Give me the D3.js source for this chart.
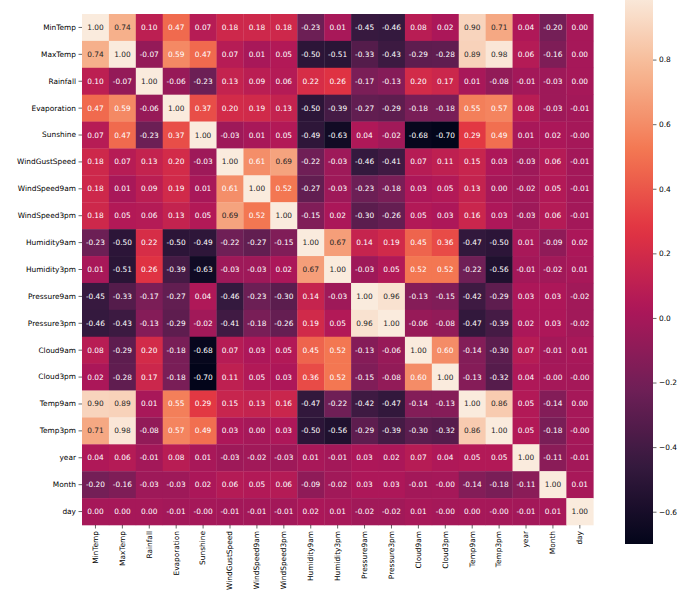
<!DOCTYPE html>
<html>
<head>
<meta charset="utf-8">
<script src="https://cdn.jsdelivr.net/npm/d3@7"></script>
<style>
  html, body { margin: 0; padding: 0; background: #fff; }
  svg { display: block; }
  text { font-family: "DejaVu Sans", sans-serif; }
</style>
</head>
<body>
<svg id="chart" width="690" height="591"></svg>
<script>
const variables = ["MinTemp","MaxTemp","Rainfall","Evaporation","Sunshine","WindGustSpeed","WindSpeed9am","WindSpeed3pm","Humidity9am","Humidity3pm","Pressure9am","Pressure3pm","Cloud9am","Cloud3pm","Temp9am","Temp3pm","year","Month","day"];

// correlation rows (row order = variables); -0.002 stands for a displayed "-0.00"
const rowMinTemp       = [1.00, 0.74, 0.10, 0.47, 0.07, 0.18, 0.18, 0.18, -0.23, 0.01, -0.45, -0.46, 0.08, 0.02, 0.90, 0.71, 0.04, -0.20, 0.00];
const rowMaxTemp       = [0.74, 1.00, -0.07, 0.59, 0.47, 0.07, 0.01, 0.05, -0.50, -0.51, -0.33, -0.43, -0.29, -0.28, 0.89, 0.98, 0.06, -0.16, 0.00];
const rowRainfall      = [0.10, -0.07, 1.00, -0.06, -0.23, 0.13, 0.09, 0.06, 0.22, 0.26, -0.17, -0.13, 0.20, 0.17, 0.01, -0.08, -0.01, -0.03, 0.00];
const rowEvaporation   = [0.47, 0.59, -0.06, 1.00, 0.37, 0.20, 0.19, 0.13, -0.50, -0.39, -0.27, -0.29, -0.18, -0.18, 0.55, 0.57, 0.08, -0.03, -0.01];
const rowSunshine      = [0.07, 0.47, -0.23, 0.37, 1.00, -0.03, 0.01, 0.05, -0.49, -0.63, 0.04, -0.02, -0.68, -0.70, 0.29, 0.49, 0.01, 0.02, -0.002];
const rowWindGustSpeed = [0.18, 0.07, 0.13, 0.20, -0.03, 1.00, 0.61, 0.69, -0.22, -0.03, -0.46, -0.41, 0.07, 0.11, 0.15, 0.03, -0.03, 0.06, -0.01];
const rowWindSpeed9am  = [0.18, 0.01, 0.09, 0.19, 0.01, 0.61, 1.00, 0.52, -0.27, -0.03, -0.23, -0.18, 0.03, 0.05, 0.13, 0.00, -0.02, 0.05, -0.01];
const rowWindSpeed3pm  = [0.18, 0.05, 0.06, 0.13, 0.05, 0.69, 0.52, 1.00, -0.15, 0.02, -0.30, -0.26, 0.05, 0.03, 0.16, 0.03, -0.03, 0.06, -0.01];
const rowHumidity9am   = [-0.23, -0.50, 0.22, -0.50, -0.49, -0.22, -0.27, -0.15, 1.00, 0.67, 0.14, 0.19, 0.45, 0.36, -0.47, -0.50, 0.01, -0.09, 0.02];
const rowHumidity3pm   = [0.01, -0.51, 0.26, -0.39, -0.63, -0.03, -0.03, 0.02, 0.67, 1.00, -0.03, 0.05, 0.52, 0.52, -0.22, -0.56, -0.01, -0.02, 0.01];
const rowPressure9am   = [-0.45, -0.33, -0.17, -0.27, 0.04, -0.46, -0.23, -0.30, 0.14, -0.03, 1.00, 0.96, -0.13, -0.15, -0.42, -0.29, 0.03, 0.03, -0.02];
const rowPressure3pm   = [-0.46, -0.43, -0.13, -0.29, -0.02, -0.41, -0.18, -0.26, 0.19, 0.05, 0.96, 1.00, -0.06, -0.08, -0.47, -0.39, 0.02, 0.03, -0.02];
const rowCloud9am      = [0.08, -0.29, 0.20, -0.18, -0.68, 0.07, 0.03, 0.05, 0.45, 0.52, -0.13, -0.06, 1.00, 0.60, -0.14, -0.30, 0.07, -0.01, 0.01];
const rowCloud3pm      = [0.02, -0.28, 0.17, -0.18, -0.70, 0.11, 0.05, 0.03, 0.36, 0.52, -0.15, -0.08, 0.60, 1.00, -0.13, -0.32, 0.04, -0.002, -0.002];
const rowTemp9am       = [0.90, 0.89, 0.01, 0.55, 0.29, 0.15, 0.13, 0.16, -0.47, -0.22, -0.42, -0.47, -0.14, -0.13, 1.00, 0.86, 0.05, -0.14, 0.00];
const rowTemp3pm       = [0.71, 0.98, -0.08, 0.57, 0.49, 0.03, 0.00, 0.03, -0.50, -0.56, -0.29, -0.39, -0.30, -0.32, 0.86, 1.00, 0.05, -0.18, -0.002];
const rowYear          = [0.04, 0.06, -0.01, 0.08, 0.01, -0.03, -0.02, -0.03, 0.01, -0.01, 0.03, 0.02, 0.07, 0.04, 0.05, 0.05, 1.00, -0.11, -0.01];
const rowMonth         = [-0.20, -0.16, -0.03, -0.03, 0.02, 0.06, 0.05, 0.06, -0.09, -0.02, 0.03, 0.03, -0.01, -0.002, -0.14, -0.18, -0.11, 1.00, 0.01];
const rowDay           = [0.00, 0.00, 0.00, -0.01, -0.002, -0.01, -0.01, -0.01, 0.02, 0.01, -0.02, -0.02, 0.01, -0.002, 0.00, -0.002, -0.01, 0.01, 1.00];

const colorbarTicks = [-0.6, -0.4, -0.2, 0.0, 0.2, 0.4, 0.6, 0.8];
const vmin = -0.70, vmax = 1.00;

const matrix = [rowMinTemp,rowMaxTemp,rowRainfall,rowEvaporation,rowSunshine,rowWindGustSpeed,rowWindSpeed9am,rowWindSpeed3pm,rowHumidity9am,rowHumidity3pm,rowPressure9am,rowPressure3pm,rowCloud9am,rowCloud3pm,rowTemp9am,rowTemp3pm,rowYear,rowMonth,rowDay];

const cells = [];
matrix.forEach((row, i) => row.forEach((v, j) => cells.push({r: variables[i], c: variables[j], v})));

// rocket-like colormap
const rocket = d3.piecewise(d3.interpolateRgb, ["#03051a","#35193e","#701f57","#ad1759","#e13342","#f37651","#f6b48f","#faebdd"]);
const norm = d3.scaleLinear().domain([vmin, vmax]).range([0, 1]).clamp(true);
const color = v => rocket(norm(v));

const svg = d3.select("#chart");
const FS = 7.4;

const x = d3.scaleBand().domain(variables).range([82, 593.3]);
const y = d3.scaleBand().domain(variables).range([14, 525]);

const fmt = v => (v < 0 ? "-" : "") + Math.abs(v).toFixed(2);

svg.append("g").selectAll("rect").data(cells).join("rect")
  .attr("x", d => x(d.c)).attr("y", d => y(d.r))
  .attr("width", x.bandwidth() + 0.3).attr("height", y.bandwidth() + 0.3)
  .attr("fill", d => color(d.v));

svg.append("g").selectAll("text").data(cells).join("text")
  .attr("x", d => x(d.c) + x.bandwidth() / 2)
  .attr("y", d => y(d.r) + y.bandwidth() / 2)
  .attr("text-anchor", "middle").attr("dominant-baseline", "central")
  .attr("font-size", FS)
  .attr("fill", d => d.v > 0.64 ? "#262626" : "#ffffff")
  .text(d => fmt(d.v));

// axes
const yAxis = svg.append("g").attr("transform", "translate(82,0)")
  .call(d3.axisLeft(y).tickSize(3.5).tickPadding(2.5));
yAxis.select(".domain").remove();
yAxis.selectAll("text").attr("font-size", FS).attr("fill", "#000").attr("font-family", "DejaVu Sans");
yAxis.selectAll("line").attr("stroke", "#000").attr("stroke-width", 0.6);

const xAxis = svg.append("g").attr("transform", "translate(0,525)")
  .call(d3.axisBottom(x).tickSize(3.5).tickPadding(2.5));
xAxis.select(".domain").remove();
xAxis.selectAll("line").attr("stroke", "#000").attr("stroke-width", 0.6);
xAxis.selectAll("text")
  .attr("font-size", FS).attr("fill", "#000").attr("font-family", "DejaVu Sans")
  .attr("transform", "rotate(-90)")
  .attr("text-anchor", "end")
  .attr("x", -6).attr("y", 0).attr("dy", "0.32em");

// colorbar
const cbX = 625, cbW = 28;
const cbScale = d3.scaleLinear().domain([vmin, vmax]).range([544, -5]);
const defs = svg.append("defs");
const grad = defs.append("linearGradient").attr("id", "cbgrad")
  .attr("x1", 0).attr("y1", 1).attr("x2", 0).attr("y2", 0);
d3.range(0, 1.0001, 0.02).forEach(t => grad.append("stop").attr("offset", t).attr("stop-color", rocket(t)));
svg.append("rect").attr("x", cbX).attr("y", cbScale(vmax)).attr("width", cbW)
  .attr("height", cbScale(vmin) - cbScale(vmax)).attr("fill", "url(#cbgrad)");

const cbAxis = svg.append("g").attr("transform", `translate(${cbX + cbW},0)`)
  .call(d3.axisRight(cbScale).tickValues(colorbarTicks).tickSize(3.5).tickPadding(2.5)
    .tickFormat(v => (v < 0 ? "\u2212" : "") + Math.abs(v).toFixed(1)));
cbAxis.select(".domain").remove();
cbAxis.selectAll("text").attr("font-size", FS).attr("fill", "#000").attr("font-family", "DejaVu Sans");
cbAxis.selectAll("line").attr("stroke", "#000").attr("stroke-width", 0.6);
</script>
</body>
</html>
